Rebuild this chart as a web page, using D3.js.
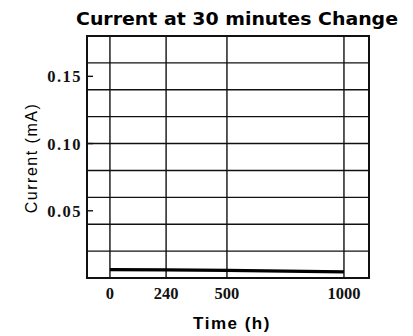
<!DOCTYPE html>
<html lang="en">
<head>
  <meta charset="UTF-8">
  <title>Current at 30 minutes Change</title>
  <style>
    body { margin: 0; background: #fff; }
    svg { display: block; }
    .tick-label { font-family: "Liberation Serif", "DejaVu Serif", serif; font-weight: bold; font-size: 16.5px; fill: #111; }
  </style>
</head>
<body>
  <div id="chart"></div>
  <script src="https://d3js.org/d3.v7.min.js"></script>
  <script>
    // Data
    const timeHours = [0, 240, 500, 1000];
    const currentMA = [0.0062, 0.006, 0.0056, 0.0046];
    const xTickValues = [0, 240, 500, 1000];
    const yTickValues = [0.05, 0.10, 0.15];
    const yGridValues = [0.02, 0.04, 0.06, 0.08, 0.10, 0.12, 0.14, 0.16];

    const W = 413, H = 336;
    const margin = { top: 36, right: 44, bottom: 58, left: 87 };
    const width = W - margin.left - margin.right,
          height = H - margin.top - margin.bottom;

    const x = d3.scaleLinear().domain([-98, 1107]).range([0, width]);
    const y = d3.scaleLinear().domain([0, 0.18]).range([height, 0]);

    const svg = d3.select("#chart").append("svg")
      .attr("width", W)
      .attr("height", H);

    // Title
    svg.append("text")
      .attr("x", 237)
      .attr("y", 25)
      .attr("text-anchor", "middle")
      .attr("textLength", 322)
      .attr("lengthAdjust", "spacingAndGlyphs")
      .style("font-family", "DejaVu Sans, Arial, sans-serif")
      .style("font-weight", "bold")
      .style("font-size", "17px")
      .text("Current at 30 minutes Change");

    const g = svg.append("g")
      .attr("transform", `translate(${margin.left},${margin.top})`);

    // Horizontal grid lines
    g.selectAll(".hgrid")
      .data(yGridValues)
      .enter().append("line")
      .attr("x1", 0).attr("x2", width)
      .attr("y1", d => y(d)).attr("y2", d => y(d))
      .attr("stroke", "#111").attr("stroke-width", 1.4);

    // Vertical grid lines
    g.selectAll(".vgrid")
      .data(xTickValues)
      .enter().append("line")
      .attr("x1", d => x(d)).attr("x2", d => x(d))
      .attr("y1", 0).attr("y2", height)
      .attr("stroke", "#111").attr("stroke-width", 1.4);

    // Frame
    g.append("rect")
      .attr("x", 0).attr("y", 0)
      .attr("width", width).attr("height", height)
      .attr("fill", "none")
      .attr("stroke", "#111").attr("stroke-width", 2);

    // Y ticks (short marks inside the frame) and labels
    g.selectAll(".ytick")
      .data(yTickValues)
      .enter().append("line")
      .attr("x1", 0).attr("x2", 6)
      .attr("y1", d => y(d)).attr("y2", d => y(d))
      .attr("stroke", "#111").attr("stroke-width", 1.4);

    g.selectAll(".ylabel")
      .data(yTickValues)
      .enter().append("text")
      .attr("class", "tick-label")
      .attr("x", -5)
      .attr("y", d => y(d) + 6)
      .attr("text-anchor", "end")
      .attr("letter-spacing", "1.5px")
      .text(d => d3.format(".2f")(d));

    // X labels
    g.selectAll(".xlabel")
      .data(xTickValues)
      .enter().append("text")
      .attr("class", "tick-label")
      .attr("x", d => x(d))
      .attr("y", height + 21)
      .attr("text-anchor", "middle")
      .text(d => d);

    // Data line
    const line = d3.line()
      .x((d, i) => x(timeHours[i]))
      .y(d => y(d));

    g.append("path")
      .datum(currentMA)
      .attr("d", line)
      .attr("fill", "none")
      .attr("stroke", "#000")
      .attr("stroke-width", 3.2);

    // Axis titles
    svg.append("text")
      .attr("x", 232)
      .attr("y", 329)
      .attr("text-anchor", "middle")
      .attr("letter-spacing", "1.5px")
      .style("font-family", "Liberation Sans, Arial, sans-serif")
      .style("font-weight", "bold")
      .style("font-size", "17px")
      .text("Time (h)");

    svg.append("text")
      .attr("transform", "translate(37,158) rotate(-90)")
      .attr("text-anchor", "middle")
      .style("font-family", "Liberation Sans, Arial, sans-serif")
      .style("font-size", "16px")
      .attr("letter-spacing", "1.5px")
      .text("Current (mA)");
  </script>
</body>
</html>
